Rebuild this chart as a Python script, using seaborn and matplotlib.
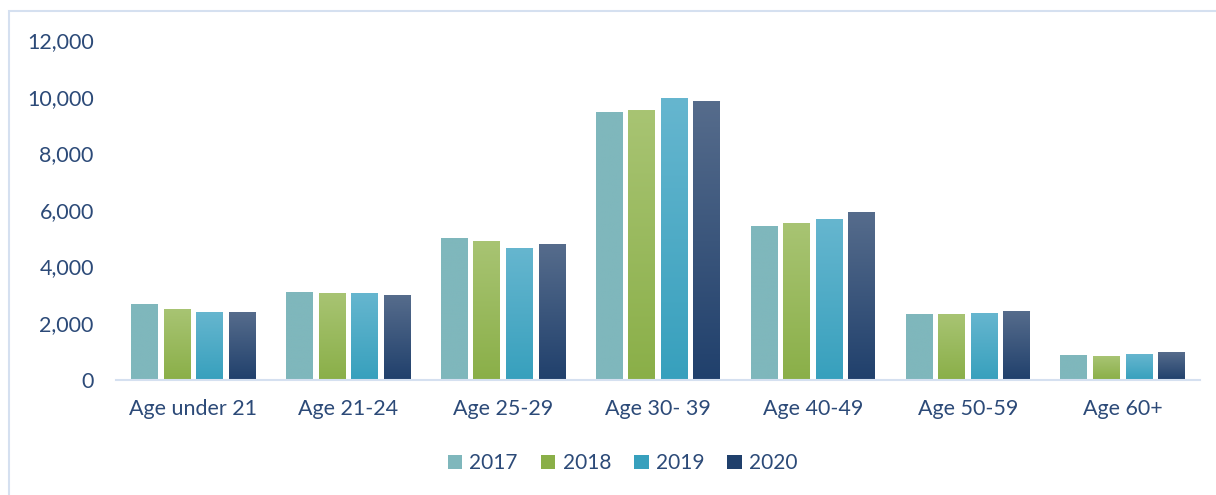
import numpy as np
import pandas as pd
import matplotlib
matplotlib.use("Agg")
import matplotlib.pyplot as plt
import seaborn as sns
from matplotlib.colors import LinearSegmentedColormap
from matplotlib.patches import Rectangle, Patch

categories = ["Age under 21", "Age 21-24", "Age 25-29", "Age 30- 39", "Age 40-49", "Age 50-59", "Age 60+"]
years = ["2017", "2018", "2019", "2020"]
v2017 = [2670, 3090, 5000, 9470, 5420, 2330, 860]
v2018 = [2500, 3050, 4900, 9540, 5540, 2320, 830]
v2019 = [2390, 3050, 4640, 9960, 5680, 2350, 900]
v2020 = [2390, 2990, 4790, 9860, 5930, 2430, 970]
yticks = [0, 2000, 4000, 6000, 8000, 10000, 12000]

# gradient colours (top, bottom)
grad = {
    "2017": ("#7fb7bc", "#7fb7bc"),
    "2018": ("#a8c473", "#8aaf48"),
    "2019": ("#66b6cf", "#37a0bd"),
    "2020": ("#566c8c", "#20406c"),
}
text_color = "#2c4a78"

df = pd.DataFrame({
    "cat": np.repeat(categories, 4),
    "year": years * len(categories),
    "val": [v for vals in zip(v2017, v2018, v2019, v2020) for v in vals],
})

sns.set_theme(style="white")
plt.rcParams["font.family"] = ["Lato", "DejaVu Sans"]

fig = plt.figure(figsize=(12.16, 4.95), dpi=100)
ax = fig.add_axes([0.0954, 0.2333, 0.8916, 0.6847])

palette = {y: grad[y][1] for y in years}
sns.barplot(data=df, x="cat", y="val", hue="year", hue_order=years, order=categories,
            palette=palette, width=0.84, gap=0.17, ax=ax, legend=False,
            saturation=1, errorbar=None)

ax.set_ylim(0, 12000)
ax.set_xlim(-0.5, len(categories) - 0.5)

# apply vertical gradients to each bar
for container, y in zip(ax.containers, years):
    top, bot = grad[y]
    cmap = LinearSegmentedColormap.from_list("g" + y, [bot, top])
    for bar in container:
        x0, y0 = bar.get_x(), bar.get_y()
        w, h = bar.get_width(), bar.get_height()
        img = ax.imshow(np.linspace(0, 1, 256).reshape(-1, 1), cmap=cmap, origin="lower",
                        extent=[x0, x0 + w, y0, y0 + h], aspect="auto", zorder=bar.get_zorder() + 0.1)
        img.set_clip_path(bar)
ax.set_xlim(-0.5, len(categories) - 0.5)
ax.set_ylim(0, 12000)
ax.set_aspect("auto")

ax.set_yticks(yticks)
ax.set_yticklabels([f"{t:,}" for t in yticks])
ax.tick_params(axis="both", colors=text_color, labelsize=15.5, length=0)
ax.tick_params(axis="x", pad=14)
ax.tick_params(axis="y", pad=16)
for lbl in ax.get_xticklabels() + ax.get_yticklabels():
    lbl.set_color(text_color)
ax.set_xlabel("")
ax.set_ylabel("")
for s in ["top", "right", "left"]:
    ax.spines[s].set_visible(False)
ax.spines["bottom"].set_color("#d5e0f0")
ax.spines["bottom"].set_linewidth(1.5)
ax.spines["bottom"].set_zorder(5)

handles = [Patch(facecolor=(grad[y][0] if y == "2017" else grad[y][1]), edgecolor="none") for y in years]
fig.legend(handles, years, loc="center", bbox_to_anchor=(0.512, 0.064), ncol=4, frameon=False,
           fontsize=15, labelcolor=text_color, handlelength=0.7, handleheight=0.7,
           handletextpad=0.35, columnspacing=1.1)

fig.patches.append(Rectangle((9 / 1216, -0.01), 1.02, 1 - 11 / 495 + 0.01, transform=fig.transFigure,
                             fill=False, edgecolor="#d5e0f0", linewidth=1.5))

fig.savefig("out.png", dpi=100, facecolor="white")
